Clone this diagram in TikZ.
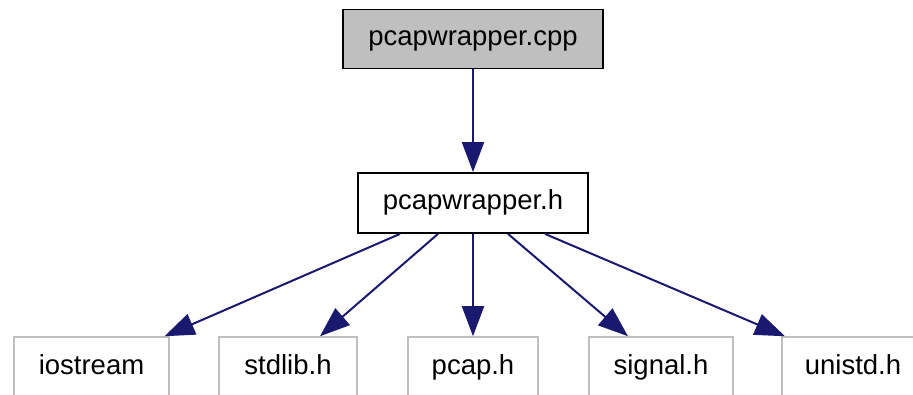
\documentclass[tikz,border=0pt]{standalone}
\usepackage{fontspec}
\setmainfont{Liberation Sans}
\usetikzlibrary{arrows.meta}

\definecolor{edgeblue}{HTML}{191970}
\definecolor{boxgrey}{HTML}{BFBFBF}

\tikzset{
    filebox/.style={draw=black, line width=1.8pt, inner sep=0pt, text height=19.5pt, text depth=5.5pt, font=\fontsize{27.5}{33}\selectfont},
    sysbox/.style={draw=boxgrey, line width=1.5pt, inner sep=0pt, minimum height=60pt, text height=19.5pt, text depth=5.5pt, font=\fontsize{27.5}{33}\selectfont},
    incl/.style={draw=edgeblue, line width=2pt, -{Triangle[length=30pt,width=22pt]}}
}

\begin{document}
\begin{tikzpicture}[x=1pt,y=-1pt]
    % Fix the page size
    \useasboundingbox (0,0) rectangle (913,395);

    % The source file and its header
    \node[filebox, fill=boxgrey, minimum width=260pt, minimum height=59pt] (cpp) at (473,39) {pcapwrapper.cpp};
    \node[filebox, fill=white, minimum width=230pt, minimum height=60pt] (hdr) at (473,203) {pcapwrapper.h};

    % The system headers, cut off at the bottom
    \node[sysbox, minimum width=155pt] (iostream) at (91.5,367) {iostream};
    \node[sysbox, minimum width=138pt] (stdlib) at (288,367) {stdlib.h};
    \node[sysbox, minimum width=130pt] (pcap) at (473,367) {pcap.h};
    \node[sysbox, minimum width=144pt] (signal) at (661,367) {signal.h};
    \node[sysbox, minimum width=142pt] (unistd) at (853,367) {unistd.h};

    % Include arrows
    \draw[incl] (cpp.south) -- (hdr.north);
    \draw[incl] ([xshift=-73pt]hdr.south) -- ([xshift=73pt]iostream.north);
    \draw[incl] ([xshift=-35pt]hdr.south) -- ([xshift=32pt]stdlib.north);
    \draw[incl] (hdr.south) -- (pcap.north);
    \draw[incl] ([xshift=35pt]hdr.south) -- ([xshift=-33pt]signal.north);
    \draw[incl] ([xshift=72pt]hdr.south) -- ([xshift=-68pt]unistd.north);

\end{tikzpicture}
\end{document}
